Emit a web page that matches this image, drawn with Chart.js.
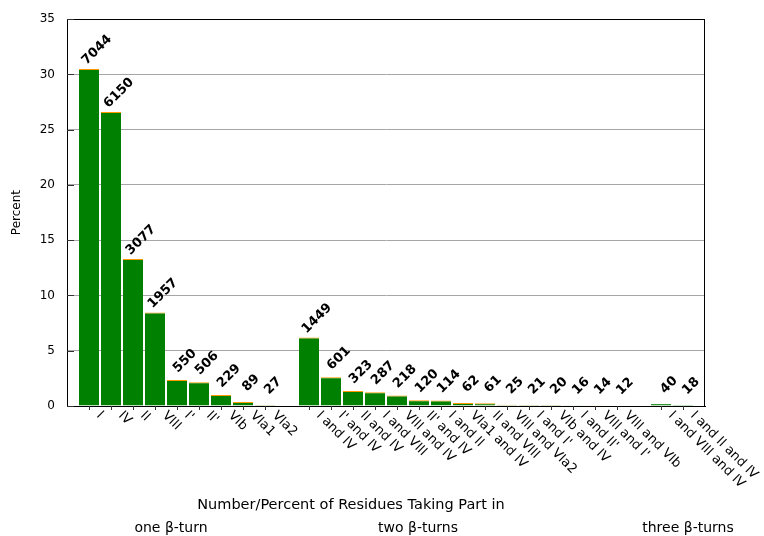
<!DOCTYPE html>
<html lang="en">
<head>
<meta charset="UTF-8">
<title>Residues in beta-turns</title>
<script src="https://cdn.jsdelivr.net/npm/chart.js"></script>
<style>
  html, body { margin: 0; padding: 0; background: #fff; }
  #chartBox { width: 764px; height: 536px; }
</style>
</head>
<body>
<div id="chartBox"><canvas id="turnChart" width="764" height="536"></canvas></div>
<script>
// residues taking part in one, two and three beta-turns
const oneTurnLabels = ['I', 'IV', 'II', 'VIII', "I'", "II'", 'VIb', 'VIa1', 'VIa2'];
const oneTurnCounts = [7044, 6150, 3077, 1957, 550, 506, 229, 89, 27];
const oneTurnPercent = [30.5, 26.6, 13.3, 8.47, 2.35, 2.14, 1.0, 0.36, 0.1];

const twoTurnLabels = ['I and IV', "I' and IV", 'II and IV', 'I and VIII', 'VIII and IV', "II' and IV",
    'I and II', 'VIa1 and IV', 'II and VIII', 'VIII and VIa2', "I and I'", 'VIb and IV',
    "I and II'", "VIII and I'", 'VIII and VIb'];
const twoTurnCounts = [1449, 601, 323, 287, 218, 120, 114, 62, 61, 25, 21, 20, 16, 14, 12];
const twoTurnPercent = [6.2, 2.6, 1.36, 1.25, 0.94, 0.52, 0.49, 0.27, 0.26, 0.11, 0.09, 0.09, 0.07, 0.06, 0.05];

const threeTurnLabels = ['I and VIII and IV', 'I and II and IV'];
const threeTurnCounts = [40, 18];
const threeTurnPercent = [0.17, 0.08];

const yTicks = [0, 5, 10, 15, 20, 25, 30, 35];
const groupTitles = ['one β-turn', 'two β-turns', 'three β-turns'];
const axisTitle = 'Number/Percent of Residues Taking Part in';
const yTitle = 'Percent';

const GREEN = '#008000';
const ORANGE = '#ff9900';

// lay the groups out on one index axis, one empty slot between groups
const groups = [
    { labels: oneTurnLabels, counts: oneTurnCounts, percent: oneTurnPercent, top: ORANGE },
    { labels: twoTurnLabels, counts: twoTurnCounts, percent: twoTurnPercent, top: ORANGE },
    { labels: threeTurnLabels, counts: threeTurnCounts, percent: threeTurnPercent, top: GREEN }
];
const points = [], labels = [], counts = [], topColors = [];
let slot = 0;
groups.forEach((g, gi) => {
    if (gi > 0) slot++;
    g.labels.forEach((lab, i) => {
        points.push({ x: slot, y: g.percent[i] });
        labels.push(lab);
        counts.push(g.counts[i]);
        topColors.push(g.top);
        slot++;
    });
});

const FONT = "'DejaVu Sans', sans-serif";

const annotate = {
    id: 'annotate',
    afterDatasetsDraw(chart) {
        const ctx = chart.ctx;
        const area = chart.chartArea;
        const yScale = chart.scales.y;
        const bars = chart.getDatasetMeta(0).data;
        ctx.save();

        // frame
        ctx.strokeStyle = '#000';
        ctx.lineWidth = 1;
        ctx.strokeRect(Math.round(area.left) + 0.5, Math.round(area.top) + 0.5,
            Math.round(area.right - area.left) - 1, Math.round(area.bottom - area.top));

        // inward y tics
        ctx.strokeStyle = '#333';
        yTicks.forEach(v => {
            const py = Math.round(yScale.getPixelForValue(v)) + 0.5;
            ctx.beginPath();
            ctx.moveTo(area.left, py);
            ctx.lineTo(area.left + 7, py);
            ctx.stroke();
        });

        ctx.fillStyle = '#000';
        bars.forEach((el, i) => {
            // x tic
            const tx = Math.round(el.x) + 0.5;
            ctx.beginPath();
            ctx.moveTo(tx, area.bottom);
            ctx.lineTo(tx, area.bottom + 4);
            ctx.stroke();

            // count above the bar
            ctx.save();
            ctx.translate(el.x + 8, el.y - 19);
            ctx.rotate(-Math.PI / 4);
            ctx.font = 'bold 13px ' + FONT;
            ctx.textAlign = 'center';
            ctx.textBaseline = 'middle';
            ctx.fillText(String(counts[i]), 0, 0);
            ctx.restore();

            // category label
            ctx.save();
            ctx.translate(el.x + 7, area.bottom + 10);
            ctx.rotate(Math.PI / 4);
            ctx.font = '13px ' + FONT;
            ctx.textAlign = 'left';
            ctx.textBaseline = 'alphabetic';
            ctx.fillText(labels[i], 0, 0);
            ctx.restore();
        });

        // axis titles
        ctx.textAlign = 'center';
        ctx.textBaseline = 'middle';
        ctx.font = '14.5px ' + FONT;
        ctx.fillText(axisTitle, 351, 505);
        ctx.font = '14px ' + FONT;
        ctx.fillText(groupTitles[0], 171, 528);
        ctx.fillText(groupTitles[1], 418, 528);
        ctx.fillText(groupTitles[2], 688, 528);

        ctx.save();
        ctx.translate(17, (area.top + area.bottom) / 2);
        ctx.rotate(-Math.PI / 2);
        ctx.font = '12px ' + FONT;
        ctx.fillText(yTitle, 0, 0);
        ctx.restore();

        ctx.restore();
    }
};

Chart.defaults.color = '#000';
Chart.defaults.font.family = FONT;

new Chart(document.getElementById('turnChart'), {
    type: 'bar',
    data: {
        datasets: [{
            data: points,
            backgroundColor: GREEN,
            borderColor: topColors,
            borderWidth: { top: 1, right: 0, bottom: 0, left: 0 },
            borderSkipped: 'start',
            categoryPercentage: 1,
            barPercentage: 0.91
        }]
    },
    options: {
        responsive: false,
        devicePixelRatio: 1,
        animation: false,
        layout: { padding: { top: 19, right: 59, left: 0, bottom: 0 } },
        plugins: { legend: { display: false }, tooltip: { enabled: false } },
        scales: {
            x: {
                type: 'linear',
                offset: false,
                min: -1,
                max: slot,
                ticks: { display: false },
                grid: { display: false, offset: false },
                border: { display: true, color: '#000' },
                afterFit: s => { s.height = 130; }
            },
            y: {
                min: 0,
                max: 35,
                ticks: { stepSize: 5, padding: 12, font: { size: 12 } },
                grid: { color: '#a6a6a6', drawTicks: false },
                border: { display: true, color: '#000' },
                afterFit: s => { s.width = 67; }
            }
        }
    },
    plugins: [annotate]
});
</script>
</body>
</html>
